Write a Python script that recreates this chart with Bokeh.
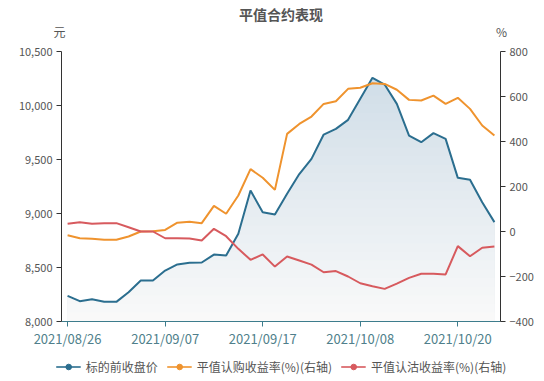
import numpy as np
from bokeh.plotting import figure
from bokeh.layouts import column
from bokeh.models import (Range1d, LinearAxis, FixedTicker, NumeralTickFormatter,
                          Legend, LegendItem, Label, ColumnDataSource)
from bokeh.embed import file_html
from bokeh.resources import INLINE

# ---------------- data ----------------
dates = ["2021/08/26", "2021/08/27", "2021/08/30", "2021/08/31", "2021/09/01", "2021/09/02",
         "2021/09/03", "2021/09/06", "2021/09/07", "2021/09/08", "2021/09/09", "2021/09/10",
         "2021/09/13", "2021/09/14", "2021/09/15", "2021/09/16", "2021/09/17", "2021/09/22",
         "2021/09/23", "2021/09/24", "2021/09/27", "2021/09/28", "2021/09/29", "2021/09/30",
         "2021/10/08", "2021/10/11", "2021/10/12", "2021/10/13", "2021/10/14", "2021/10/15",
         "2021/10/18", "2021/10/19", "2021/10/20", "2021/10/21", "2021/10/22", "2021/10/25"]

price = [8238, 8188, 8206, 8182, 8182, 8271, 8380, 8380, 8472, 8528, 8543, 8546,
         8620, 8611, 8812, 9213, 9012, 8991, 9182, 9365, 9506, 9731, 9784, 9867,
         10062, 10256, 10194, 10015, 9722, 9660, 9744, 9691, 9330, 9312, 9105, 8920]

call_ret = [-17, -30, -32, -37, -37, -22, 0, 1, 7, 39, 43, 37,
            114, 79, 160, 277, 239, 185, 434, 478, 511, 567, 579, 634,
            639, 659, 656, 630, 585, 582, 604, 567, 594, 545, 471, 427]

put_ret = [34, 41, 34, 37, 37, 19, 0, 0, -30, -30, -31, -40,
           12, -21, -77, -126, -102, -156, -111, -129, -147, -181, -176, -200,
           -230, -243, -255, -232, -206, -188, -188, -191, -65, -110, -72, -67]

tick_idx = [0, 8, 16, 24, 32]
left_ticks = [8000, 8500, 9000, 9500, 10000, 10500]
right_ticks = [-400, -200, 0, 200, 400, 600, 800]

names = ["标的前收盘价", "平值认购收益率(%)(右轴)", "平值认沽收益率(%)(右轴)"]
title_text = "平值合约表现"
left_unit = "元"
right_unit = "%"

# ---------------- styles ----------------
FONT = "Noto Sans CJK SC"
C_BLUE = "#2b6e8f"
C_ORANGE = "#ef932e"
C_RED = "#d75a5e"
TEXT = "#555555"
colors = [C_BLUE, C_ORANGE, C_RED]

W = 544
TOP_H = 43
MAIN_H = 308
LEG_H = 381 - TOP_H - MAIN_H
BL, BR, BT, BB = 61, 44, 8, 30
fw = W - BL - BR

x = np.arange(len(price))
y_base = left_ticks[0]

# ---------------- header (title + axis names) ----------------
top = figure(width=W, height=TOP_H, output_backend="svg", toolbar_location=None,
             x_axis_type=None, y_axis_type=None, frame_align=False,
             x_range=Range1d(0, 1), y_range=Range1d(0, 1),
             min_border_left=0, min_border_right=0, min_border_top=0, min_border_bottom=0)
top.outline_line_color = None
top.grid.visible = False
top.add_layout(Label(x=BL + fw / 2, y=TOP_H - 13, x_units="screen", y_units="screen",
                     text=title_text, text_align="center", text_baseline="middle",
                     text_font=FONT, text_font_size="14px", text_font_style="bold",
                     text_color=TEXT))
top.add_layout(Label(x=BL - 2, y=TOP_H - 31, x_units="screen", y_units="screen",
                     text=left_unit, text_align="center", text_baseline="middle",
                     text_font=FONT, text_font_size="12px", text_color=TEXT))
top.add_layout(Label(x=BL + fw + 1, y=TOP_H - 31, x_units="screen", y_units="screen",
                     text=right_unit, text_align="center", text_baseline="middle",
                     text_font=FONT, text_font_size="12px", text_color=TEXT))

# ---------------- main plot ----------------
p = figure(width=W, height=MAIN_H, output_backend="svg", toolbar_location=None,
           frame_align=False,
           x_range=Range1d(-0.5, len(price) - 0.5),
           y_range=Range1d(left_ticks[0], left_ticks[-1]),
           min_border_left=BL, min_border_right=BR, min_border_top=BT, min_border_bottom=BB)
p.outline_line_color = None
p.xgrid.visible = False
p.ygrid.visible = False
p.background_fill_color = "white"
p.extra_y_ranges = {"r": Range1d(right_ticks[0], right_ticks[-1])}

# gradient area under price: stacked horizontal bands
pr = np.array(price, dtype=float)
n_strips = 28
levels = np.linspace(y_base, pr.max(), n_strips + 1)[1:]


def clipped_top(level):
    xs = [float(x[0])]
    ys = [pr[0]]
    for i in range(len(pr) - 1):
        a, b = pr[i], pr[i + 1]
        if (a - level) * (b - level) < 0:
            t = (level - a) / (b - a)
            xs.append(x[i] + t)
            ys.append(level)
        xs.append(float(x[i + 1]))
        ys.append(b)
    return np.array(xs), np.minimum(np.array(ys), level)


top_rgb = np.array([209, 222, 232])
bot_rgb = np.array([250, 250, 250])
for lev in levels[::-1]:
    frac = (lev - y_base) / (pr.max() - y_base)
    rgb = bot_rgb + (top_rgb - bot_rgb) * frac
    col = "#%02x%02x%02x" % tuple(int(round(v)) for v in rgb)
    xs, ys = clipped_top(lev)
    p.varea(x=xs, y1=np.full(len(xs), y_base), y2=ys, fill_color=col, fill_alpha=1.0)

src = ColumnDataSource(dict(x=x, price=price, call=call_ret, put=put_ret))
p.line("x", "price", source=src, line_color=C_BLUE, line_width=2)
p.line("x", "call", source=src, line_color=C_ORANGE, line_width=2, y_range_name="r")
p.line("x", "put", source=src, line_color=C_RED, line_width=2, y_range_name="r")

xa = p.xaxis[0]
xa.ticker = FixedTicker(ticks=tick_idx)
xa.major_label_overrides = {i: dates[i] for i in tick_idx}
xa.axis_line_color = "#3d7c8c"
xa.major_tick_line_color = "#3d7c8c"
xa.major_tick_out = 5
xa.major_tick_in = 0
xa.minor_tick_line_color = None
xa.major_label_text_color = "#4f7f8b"
xa.major_label_text_font = FONT
xa.major_label_text_font_size = "13px"
xa.major_label_standoff = 2

ya = p.yaxis[0]
ya.ticker = FixedTicker(ticks=left_ticks)
ya.formatter = NumeralTickFormatter(format="0,0")
ya.axis_line_color = "#333333"
ya.major_tick_line_color = "#333333"
ya.major_tick_out = 5
ya.major_tick_in = 0
ya.minor_tick_line_color = None
ya.major_label_text_color = TEXT
ya.major_label_text_font = FONT
ya.major_label_text_font_size = "11px"
ya.major_label_standoff = 4

ra = LinearAxis(y_range_name="r")
ra.ticker = FixedTicker(ticks=right_ticks)
ra.axis_line_color = "#333333"
ra.major_tick_line_color = "#333333"
ra.major_tick_out = 5
ra.major_tick_in = 0
ra.minor_tick_line_color = None
ra.major_label_text_color = TEXT
ra.major_label_text_font = FONT
ra.major_label_text_font_size = "11px"
ra.major_label_standoff = 4
p.add_layout(ra, "right")

# ---------------- legend strip ----------------
lg = figure(width=W, height=LEG_H, output_backend="svg", toolbar_location=None,
            x_axis_type=None, y_axis_type=None, frame_align=False,
            x_range=Range1d(0, 1), y_range=Range1d(0, 1),
            min_border_left=18, min_border_right=0, min_border_top=0, min_border_bottom=0)
lg.outline_line_color = None
lg.grid.visible = False
offscreen = ColumnDataSource(dict(x=[-10.0], y=[-10.0]))
items = []
for name, c in zip(names, colors):
    lr = lg.line("x", "y", source=offscreen, line_color=c, line_width=2, line_alpha=0.8)
    sr = lg.scatter("x", "y", source=offscreen, size=14, fill_color=c, line_color=c)
    items.append(LegendItem(label=name, renderers=[lr, sr]))
legend = Legend(items=items, orientation="horizontal", location="center",
                label_text_font=FONT, label_text_font_size="12px", label_text_color=TEXT,
                glyph_width=25, glyph_height=14, spacing=9, label_standoff=5,
                padding=0, margin=0, border_line_color=None, background_fill_alpha=0)
lg.add_layout(legend, "center")

layout = column(top, p, lg, spacing=0)
open("out.html", "w").write(file_html(layout, INLINE))
